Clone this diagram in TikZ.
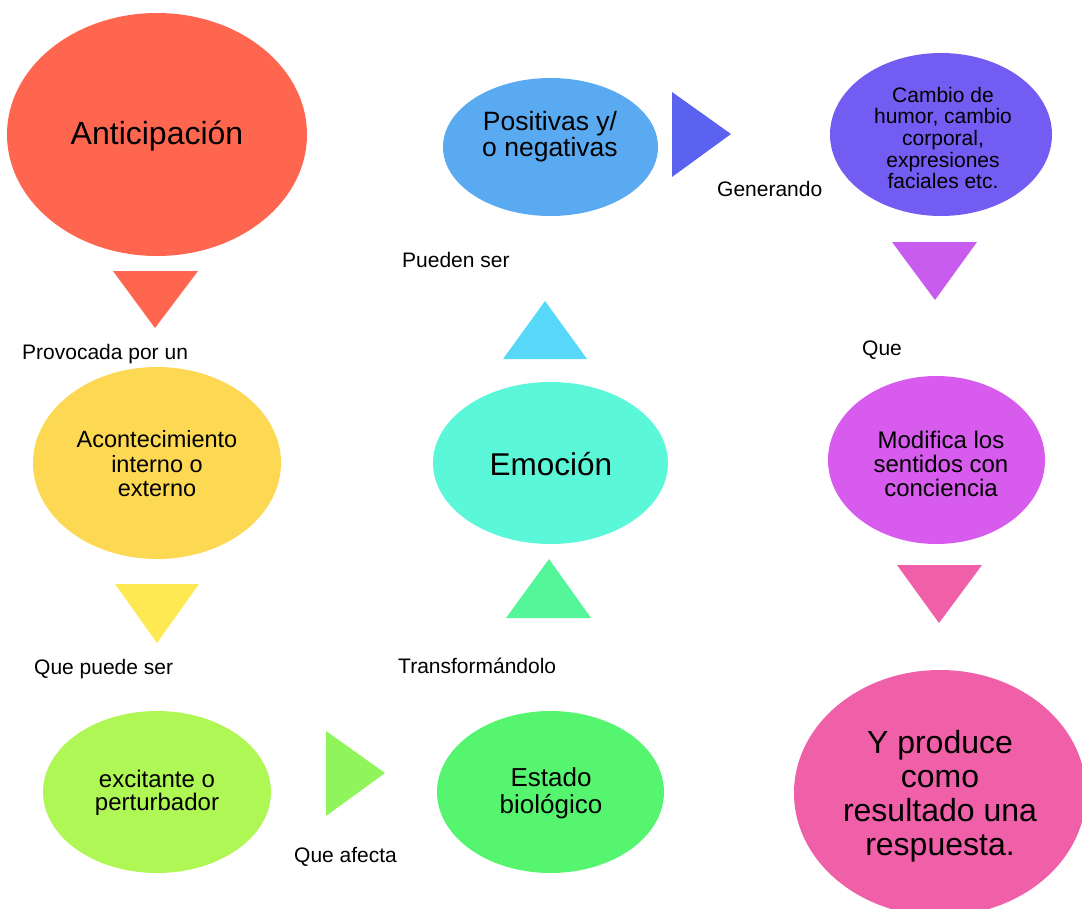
\documentclass[tikz,border=0pt]{standalone}
\usepackage{fontspec}
\setmainfont{Liberation Sans}
\usetikzlibrary{shapes.geometric}
\definecolor{cRed}{HTML}{FF6650}
\definecolor{cYel}{HTML}{FDD853}
\definecolor{cYelT}{HTML}{FFE952}
\definecolor{cLime}{HTML}{AEF755}
\definecolor{cLimeT}{HTML}{90F55A}
\definecolor{cGrn}{HTML}{55F570}
\definecolor{cGrnT}{HTML}{55F59A}
\definecolor{cTeal}{HTML}{5AF8D8}
\definecolor{cCyanT}{HTML}{58D8F8}
\definecolor{cBlue}{HTML}{5AAAF2}
\definecolor{cBlueT}{HTML}{5C62F0}
\definecolor{cViol}{HTML}{735CF2}
\definecolor{cPurT}{HTML}{C85CEE}
\definecolor{cMag}{HTML}{D75CEE}
\definecolor{cPink}{HTML}{F060A8}
\begin{document}
\begin{tikzpicture}[x=1pt,y=-1pt,
  blob/.style={ellipse,inner sep=0pt,draw=none},
  lbl/.style={anchor=west,inner sep=0pt,font=\fontsize{21}{24}\selectfont},
  txt/.style={inner sep=0pt,align=center}]
\useasboundingbox (0,0) rectangle (1082,908);
\clip (0,0) rectangle (1082,908);
% ellipses
\node[blob,fill=cRed,minimum width=300pt,minimum height=243pt] (antE) at (157,134.5) {};
\node[blob,fill=cYel,minimum width=248pt,minimum height=192pt] (acoE) at (157,463) {};
\node[blob,fill=cLime,minimum width=228pt,minimum height=162pt] (excE) at (157,792) {};
\node[blob,fill=cGrn,minimum width=227pt,minimum height=162pt] (estE) at (550.5,792) {};
\node[blob,fill=cTeal,minimum width=235pt,minimum height=162pt] (emoE) at (550.5,463) {};
\node[blob,fill=cBlue,minimum width=215pt,minimum height=138pt] (posE) at (550.5,147) {};
\node[blob,fill=cViol,minimum width=222pt,minimum height=163pt] (camE) at (941,134.5) {};
\node[blob,fill=cMag,minimum width=217pt,minimum height=168pt] (modE) at (936.5,460) {};
\node[blob,fill=cPink,minimum width=292pt,minimum height=246pt] (resE) at (940,793) {};
% triangles
\fill[cRed] (113,271) -- (198,271) -- (155,328) -- cycle;
\fill[cYelT] (115,584) -- (199,584) -- (157,643) -- cycle;
\fill[cLimeT] (326,731) -- (326,816) -- (385,773) -- cycle;
\fill[cGrnT] (506,618) -- (591,618) -- (549,559) -- cycle;
\fill[cCyanT] (503,359) -- (587,359) -- (545,301) -- cycle;
\fill[cBlueT] (672,92) -- (672,177) -- (731,134) -- cycle;
\fill[cPurT] (892,242) -- (977,242) -- (935,300) -- cycle;
\fill[cPink] (897,565) -- (982,565) -- (939,623) -- cycle;
% texts in ellipses
\node[txt,font=\fontsize{32}{34}\selectfont] (antT) at (157,136) {Anticipación};
\node[txt,font=\fontsize{23.5}{24.5}\selectfont] (acoT) at (157,464) {Acontecimiento\\interno o\\externo};
\node[txt,font=\fontsize{24}{23}\selectfont] (excT) at (157,793) {excitante o\\perturbador};
\node[txt,font=\fontsize{26}{27}\selectfont] (estT) at (551,793) {Estado\\biológico};
\node[txt,font=\fontsize{31.5}{34}\selectfont] (emoT) at (551,464) {Emoción};
\node[txt,font=\fontsize{26.5}{26}\selectfont] (posT) at (550,137) {Positivas y/\\o negativas};
\node[txt,font=\fontsize{21}{21.7}\selectfont] (camT) at (943,138) {Cambio de\\humor, cambio\\corporal,\\expresiones\\faciales etc.};
\node[txt,font=\fontsize{24}{23.7}\selectfont] (modT) at (941,464) {Modifica los\\sentidos con\\conciencia};
\node[txt,font=\fontsize{32}{34}\selectfont] (resT) at (940,796) {Y produce\\como\\resultado una\\respuesta.};
% labels
\node[lbl] (l1) at (22,354) {Provocada por un};
\node[lbl] (l2) at (34,669) {Que puede ser};
\node[lbl] (l3) at (294,857) {Que afecta};
\node[lbl] (l4) at (398,666) {Transformándolo};
\node[lbl] (l5) at (402,260) {Pueden ser};
\node[lbl] (l6) at (717,189) {Generando};
\node[lbl] (l7) at (862,350) {Que};
\end{tikzpicture}
\end{document}
